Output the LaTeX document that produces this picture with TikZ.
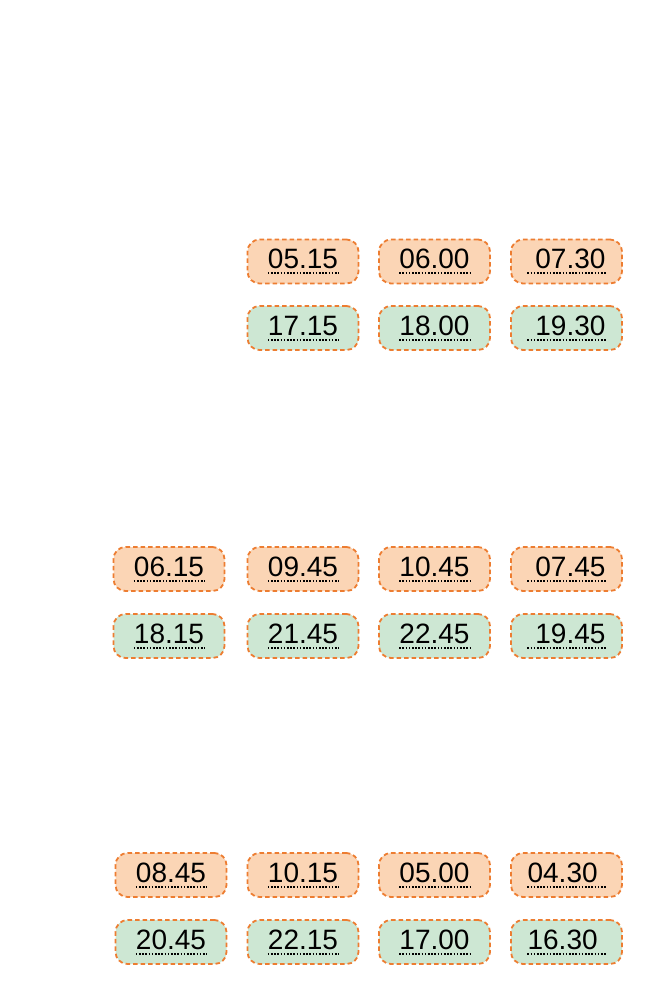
\documentclass[tikz,border=0pt]{standalone}
\usepackage{fontspec}
\setmainfont{Liberation Sans}
\usetikzlibrary{calc}

\begin{document}
\begin{tikzpicture}[x=1pt, y=1pt]
    \definecolor{edge}{HTML}{ED7D31}
\definecolor{morning}{HTML}{FBD5B5}
\definecolor{evening}{HTML}{CDE7D3}
\colorlet{ink}{black}

\newcommand\slotwidth{111}
\newcommand\slotheight{44}
\newcommand\baseshift{7}
\newcommand\lineshift{5}
\newcommand\gap{\kern.278em}

\newcommand\timeslot[5]{
    \node[#2] at (#3, #4) (#1) {};
    \node[slot text] at ($(#1.center)+(0, -\baseshift)$) (#1-text) {#5};
    \draw[blank line]
        ($(#1-text.base west)+(0, -\lineshift)$)
        -- ($(#1-text.base east)+(0, -\lineshift)$);
}

\tikzset{
    slot/.style={
        draw=edge, line width=1.8,
        dash pattern=on 4.5 off 3,
        rounded corners=12,
        minimum width={\slotwidth pt},
        minimum height={\slotheight pt},
        inner sep=0pt,
    },
    am slot/.style={slot, fill=morning},
    pm slot/.style={slot, fill=evening},
    slot text/.style={
        anchor=base, inner sep=0pt, text=ink,
        font=\fontsize{28}{28}\selectfont,
    },
    blank line/.style={
        ink, line width=2,
        dash pattern=on 1.6 off 1.6,
    },
}

\useasboundingbox (0, 0) rectangle (650, -981);

% first table
\timeslot{a-1-2}{am slot}{303}{-261.5}{05.15}
\timeslot{a-1-3}{am slot}{434.5}{-261.5}{06.00}
\timeslot{a-1-4}{am slot}{566.5}{-261.5}{\gap07.30}
\timeslot{p-1-2}{pm slot}{303}{-328}{17.15}
\timeslot{p-1-3}{pm slot}{434.5}{-328}{18.00}
\timeslot{p-1-4}{pm slot}{566.5}{-328}{\gap19.30}

% second table
\timeslot{a-2-1}{am slot}{169}{-569}{06.15}
\timeslot{a-2-2}{am slot}{303}{-569}{09.45}
\timeslot{a-2-3}{am slot}{434.5}{-569}{10.45}
\timeslot{a-2-4}{am slot}{566.5}{-569}{\gap07.45}
\timeslot{p-2-1}{pm slot}{169}{-636}{18.15}
\timeslot{p-2-2}{pm slot}{303}{-636}{21.45}
\timeslot{p-2-3}{pm slot}{434.5}{-636}{22.45}
\timeslot{p-2-4}{pm slot}{566.5}{-636}{\gap19.45}

% third table
\timeslot{a-3-1}{am slot}{171}{-875}{08.45}
\timeslot{a-3-2}{am slot}{303}{-875}{10.15}
\timeslot{a-3-3}{am slot}{434.5}{-875}{05.00}
\timeslot{a-3-4}{am slot}{566.5}{-875}{04.30\gap}
\timeslot{p-3-1}{pm slot}{171}{-942}{20.45}
\timeslot{p-3-2}{pm slot}{303}{-942}{22.15}
\timeslot{p-3-3}{pm slot}{434.5}{-942}{17.00}
\timeslot{p-3-4}{pm slot}{566.5}{-942}{16.30\gap}
\end{tikzpicture}
\end{document}
